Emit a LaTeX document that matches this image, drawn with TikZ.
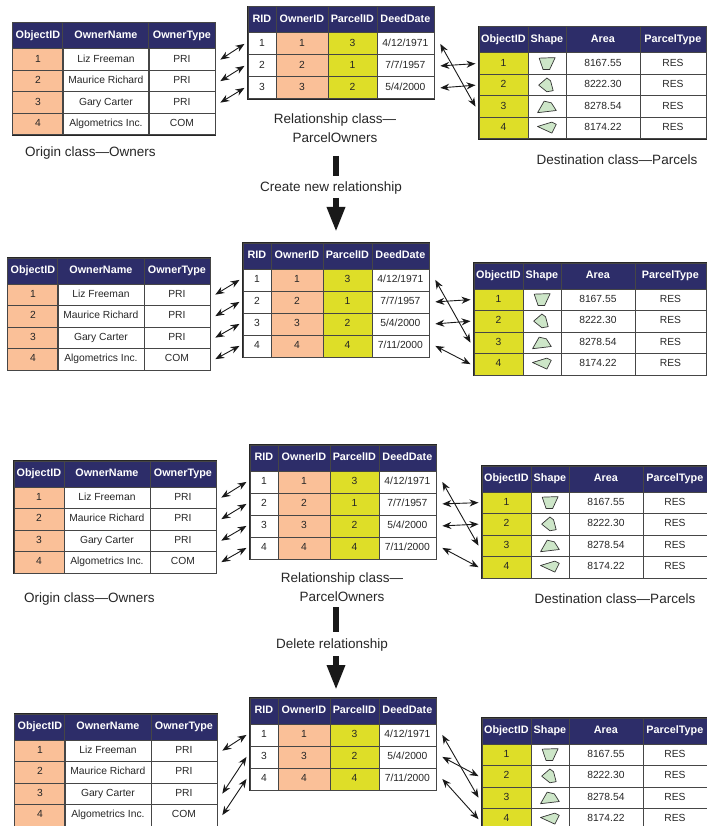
\documentclass[tikz,border=0pt]{standalone}
\usepackage{fontspec}
\setmainfont{Liberation Sans}
\usetikzlibrary{matrix,arrows.meta}

\definecolor{hdrblue}{RGB}{45,45,105}
\definecolor{salmon}{RGB}{250,192,152}
\definecolor{parcelyellow}{RGB}{222,222,40}
\definecolor{lotgreen}{RGB}{205,230,200}
\definecolor{gridline}{RGB}{70,70,70}

\tikzset{
    cell/.style={draw=gridline, line width=0.8pt, inner sep=0pt, anchor=center, minimum height=21.5pt,
        text height=7.5pt, text depth=2.2pt, text=black!85, font=\fontsize{10.3}{12}\selectfont},
    tbl/.style={matrix of nodes, nodes in empty cells, nodes={cell}, column sep=-0.8pt, row sep=-0.8pt,
        inner sep=0pt, anchor=north west, draw=black!85, line width=1pt,
        row 1/.style={nodes={fill=hdrblue, text=white, minimum height=26pt, font=\fontsize{10.8}{12}\selectfont\bfseries}}},
    ownertbl/.style={tbl, column 1/.style={nodes={minimum width=50pt, fill=salmon}},
        column 2/.style={nodes={minimum width=86pt}}, column 3/.style={nodes={minimum width=66pt}}},
    reltbl/.style={tbl, nodes={minimum height=22pt}, column 1/.style={nodes={minimum width=28pt}},
        column 2/.style={nodes={minimum width=52pt, fill=salmon}}, column 3/.style={nodes={minimum width=49pt, fill=parcelyellow}},
        column 4/.style={nodes={minimum width=57pt}}},
    parceltbl/.style={tbl, column 1/.style={nodes={minimum width=49pt, fill=parcelyellow}},
        column 2/.style={nodes={minimum width=38pt}}, column 3/.style={nodes={minimum width=74pt}},
        column 4/.style={nodes={minimum width=#1}}},
    link/.style={{Stealth[length=9pt,width=7pt]}-{Stealth[length=9pt,width=7pt]}, line width=0.9pt, draw=black!90},
    shaft/.style={line width=6pt, draw=black!90},
    bigarrow/.style={shaft, -{Triangle[length=25pt,width=17pt]}},
    caption/.style={font=\fontsize{13.5}{18.5}\selectfont, text=black!85, align=center, inner sep=0pt},
    lot/.style={draw=black!80, fill=lotgreen, line width=0.7pt, line join=round, scale=1.1},
    lot1/.pic={\draw[lot] (-7,-5) -- (7.5,-5.5) -- (2.5,5.3) -- (-3.5,5.3) -- cycle;},
    lot2/.pic={\draw[lot] (-7.5,0) -- (0,-6.5) -- (3.3,-4) -- (5.7,5) -- (0,6) -- cycle;},
    lot3/.pic={\draw[lot] (-8.5,5.5) -- (-2.5,-5) -- (4,-3.5) -- (8.5,3.5) -- cycle;},
    lot4/.pic={\draw[lot] (-8.5,-1.5) -- (4.5,-5.5) -- (8.5,-3.5) -- (4.5,4.5) -- cycle;}
}

\begin{document}
\begin{tikzpicture}[x=1pt,y=-1pt]
    \useasboundingbox (0,0) rectangle (706,826);

    % create new relationship
    \matrix (own1) [ownertbl] at (12,22) {
        ObjectID & OwnerName & OwnerType \\
        1 & Liz Freeman & PRI \\
        2 & Maurice Richard & PRI \\
        3 & Gary Carter & PRI \\
        4 & Algometrics Inc. & COM \\
    };
    \matrix (rel1) [reltbl] at (247,6) {
        RID & OwnerID & ParcelID & DeedDate \\
        1 & 1 & 3 & 4/12/1971 \\
        2 & 2 & 1 & 7/7/1957 \\
        3 & 3 & 2 & 5/4/2000 \\
    };
    \matrix (par1) [parceltbl=66pt] at (478,26) {
        ObjectID & Shape & Area & ParcelType \\
        1 & & 8167.55 & RES \\
        2 & & 8222.30 & RES \\
        3 & & 8278.54 & RES \\
        4 & & 8174.22 & RES \\
    };
    \node[caption, anchor=west] (orig1) at (25,153) {Origin class—Owners};
    \node[caption] (rlab1) at (335,128) {Relationship class—\\ParcelOwners};
    \node[caption] (dest1) at (617,160) {Destination class—Parcels};

    \foreach \i/\j in {2/2,3/3,4/4} {\draw[link] ([xshift=5pt]own1-\i-3.east) -- ([xshift=-3pt]rel1-\j-1.west);}
    \foreach \i/\j in {2/4,3/2,4/3} {\draw[link] ([xshift=6pt]rel1-\i-4.east) -- ([xshift=-3pt]par1-\j-1.west);}

    \coordinate (c1) at (336,156); \coordinate (c2) at (336,176);
    \coordinate (c3) at (336,198); \coordinate (c4) at (336,232);
    \node[caption] (create) at (331,188) {Create new relationship};
    \draw[shaft] (c1) -- (c2); \draw[bigarrow] (c3) -- (c4);

    \matrix (own2) [ownertbl] at (7,257) {
        ObjectID & OwnerName & OwnerType \\
        1 & Liz Freeman & PRI \\
        2 & Maurice Richard & PRI \\
        3 & Gary Carter & PRI \\
        4 & Algometrics Inc. & COM \\
    };
    \matrix (rel2) [reltbl] at (242,242) {
        RID & OwnerID & ParcelID & DeedDate \\
        1 & 1 & 3 & 4/12/1971 \\
        2 & 2 & 1 & 7/7/1957 \\
        3 & 3 & 2 & 5/4/2000 \\
        4 & 4 & 4 & 7/11/2000 \\
    };
    \matrix (par2) [parceltbl=71pt] at (473,262) {
        ObjectID & Shape & Area & ParcelType \\
        1 & & 8167.55 & RES \\
        2 & & 8222.30 & RES \\
        3 & & 8278.54 & RES \\
        4 & & 8174.22 & RES \\
    };
    \foreach \i/\j in {2/2,3/3,4/4,5/5} {\draw[link] ([xshift=5pt]own2-\i-3.east) -- ([xshift=-3pt]rel2-\j-1.west);}
    \foreach \i/\j in {2/4,3/2,4/3,5/5} {\draw[link] ([xshift=6pt]rel2-\i-4.east) -- ([xshift=-3pt]par2-\j-1.west);}

    % delete relationship
    \matrix (own3) [ownertbl] at (13,460) {
        ObjectID & OwnerName & OwnerType \\
        1 & Liz Freeman & PRI \\
        2 & Maurice Richard & PRI \\
        3 & Gary Carter & PRI \\
        4 & Algometrics Inc. & COM \\
    };
    \matrix (rel3) [reltbl] at (249,444) {
        RID & OwnerID & ParcelID & DeedDate \\
        1 & 1 & 3 & 4/12/1971 \\
        2 & 2 & 1 & 7/7/1957 \\
        3 & 3 & 2 & 5/4/2000 \\
        4 & 4 & 4 & 7/11/2000 \\
    };
    \matrix (par3) [parceltbl=64pt] at (481,465) {
        ObjectID & Shape & Area & ParcelType \\
        1 & & 8167.55 & RES \\
        2 & & 8222.30 & RES \\
        3 & & 8278.54 & RES \\
        4 & & 8174.22 & RES \\
    };
    \node[caption, anchor=west] (orig3) at (24,599) {Origin class—Owners};
    \node[caption] (rlab3) at (342,587) {Relationship class—\\ParcelOwners};
    \node[caption] (dest3) at (615,599) {Destination class—Parcels};

    \foreach \i/\j in {2/2,3/3,4/4,5/5} {\draw[link] ([xshift=5pt]own3-\i-3.east) -- ([xshift=-3pt]rel3-\j-1.west);}
    \foreach \i/\j in {2/4,3/2,4/3,5/5} {\draw[link] ([xshift=6pt]rel3-\i-4.east) -- ([xshift=-3pt]par3-\j-1.west);}

    \coordinate (d1) at (336,607); \coordinate (d2) at (336,632);
    \coordinate (d3) at (336,656); \coordinate (d4) at (336,690);
    \node[caption] (delete) at (332,645) {Delete relationship};
    \draw[shaft] (d1) -- (d2); \draw[bigarrow] (d3) -- (d4);

    \matrix (own4) [ownertbl] at (14,713) {
        ObjectID & OwnerName & OwnerType \\
        1 & Liz Freeman & PRI \\
        2 & Maurice Richard & PRI \\
        3 & Gary Carter & PRI \\
        4 & Algometrics Inc. & COM \\
    };
    \matrix (rel4) [reltbl] at (249,697) {
        RID & OwnerID & ParcelID & DeedDate \\
        1 & 1 & 3 & 4/12/1971 \\
        3 & 3 & 2 & 5/4/2000 \\
        4 & 4 & 4 & 7/11/2000 \\
    };
    \matrix (par4) [parceltbl=64pt] at (481,717) {
        ObjectID & Shape & Area & ParcelType \\
        1 & & 8167.55 & RES \\
        2 & & 8222.30 & RES \\
        3 & & 8278.54 & RES \\
        4 & & 8174.22 & RES \\
    };
    \foreach \i/\j in {2/2,4/3,5/4} {\draw[link] ([xshift=5pt]own4-\i-3.east) -- ([xshift=-3pt]rel4-\j-1.west);}
    \foreach \i/\j in {2/4,3/3,4/5} {\draw[link] ([xshift=6pt]rel4-\i-4.east) -- ([xshift=-3pt]par4-\j-1.west);}

    \foreach \t in {par1,par2,par3,par4} {
        \pic at (\t-2-2) {lot1}; \pic at (\t-3-2) {lot2}; \pic at (\t-4-2) {lot3}; \pic at (\t-5-2) {lot4};
    }
\end{tikzpicture}
\end{document}
